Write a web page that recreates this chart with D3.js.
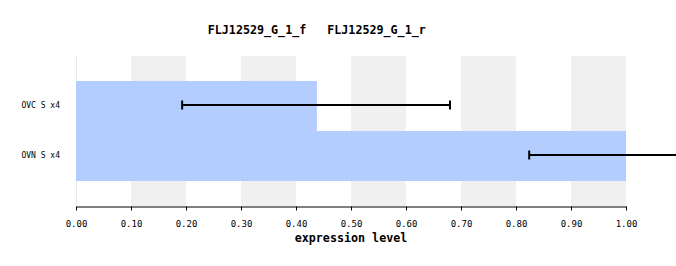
<!DOCTYPE html>
<html><head><meta charset="utf-8">
<script src="https://cdn.jsdelivr.net/npm/d3@7"></script>
<style>html,body{margin:0;padding:0;background:#fff;}svg{display:block;}</style>
</head><body>
<svg id="c" width="676" height="266"></svg>
<script>
const titles = ["FLJ12529_G_1_f", "FLJ12529_G_1_r"];
const categories = ["OVC S x4", "OVN S x4"];
const values = [0.438, 1.0];
const errLow = [0.193, 0.824];
const errHigh = [0.680, 1.176];
const xTicks = [0, 0.1, 0.2, 0.3, 0.4, 0.5, 0.6, 0.7, 0.8, 0.9, 1.0];
const axisTitle = "expression level";

const svg = d3.select("#c");
const mono = "'DejaVu Sans Mono', monospace";
const x = d3.scaleLinear().domain([0, 1]).range([76, 626]);
const y = d3.scaleBand().domain(categories).range([56, 206]).paddingInner(0).paddingOuter(0.5);

// alternating grey bands
const bands = d3.range(0.1, 1.0, 0.2).map(v => +v.toFixed(2));
svg.selectAll("rect.band").data(bands).enter().append("rect")
  .attr("x", d => x(d)).attr("y", 56)
  .attr("width", d => x(d + 0.1) - x(d)).attr("height", 150)
  .attr("fill", "#f0f0f0");

// faint left line
svg.append("line").attr("x1", 76.5).attr("x2", 76.5).attr("y1", 56).attr("y2", 206)
  .attr("stroke", "#e8e8e8");

// bars
svg.selectAll("rect.bar").data(categories).enter().append("rect")
  .attr("x", x(0)).attr("y", d => y(d))
  .attr("width", (d, i) => x(values[i]) - x(0)).attr("height", y.bandwidth())
  .attr("fill", "#b3cdff");

// error bars
const eg = svg.append("g").attr("stroke", "#000").attr("stroke-width", 2);
categories.forEach((c, i) => {
  const cy = Math.round(y(c) + y.bandwidth() / 2 - 1);
  eg.append("line").attr("x1", x(errLow[i])).attr("x2", x(errHigh[i])).attr("y1", cy).attr("y2", cy);
  eg.append("line").attr("x1", x(errLow[i])).attr("x2", x(errLow[i])).attr("y1", cy - 4.5).attr("y2", cy + 4.5);
  eg.append("line").attr("x1", x(errHigh[i])).attr("x2", x(errHigh[i])).attr("y1", cy - 4.5).attr("y2", cy + 4.5);
});

// category labels
svg.selectAll("text.cat").data(categories).enter().append("text")
  .attr("x", 60).attr("y", d => y(d) + y.bandwidth() / 2 - 1)
  .attr("dy", "0.35em").attr("text-anchor", "end")
  .attr("font-family", mono).attr("font-size", "8px").attr("fill", "#000")
  .text(d => d);

// x axis
const axis = d3.axisBottom(x).tickValues(xTicks).tickFormat(d3.format(".2f")).tickSize(4).tickSizeOuter(0);
const ag = svg.append("g").attr("transform", "translate(0,206.5)").call(axis);
ag.select(".domain").attr("stroke", "#000");
ag.selectAll(".tick line").attr("stroke", "#000");
ag.selectAll(".tick text").attr("font-family", mono).attr("font-size", "9px").attr("fill", "#000")
  .attr("y", 13).attr("dy", "0.71em").attr("dy", null).attr("dominant-baseline", "auto").attr("y", 20);

// axis title
svg.append("text").attr("x", 351).attr("y", 242).attr("text-anchor", "middle")
  .attr("font-family", mono).attr("font-weight", "bold").attr("font-size", "11.7px").text(axisTitle);

// titles
svg.append("text").attr("x", 257).attr("y", 34).attr("text-anchor", "middle")
  .attr("font-family", mono).attr("font-weight", "bold").attr("font-size", "11.7px").text(titles[0]);
svg.append("text").attr("x", 376.5).attr("y", 34).attr("text-anchor", "middle")
  .attr("font-family", mono).attr("font-weight", "bold").attr("font-size", "11.7px").text(titles[1]);
</script>
</body></html>
